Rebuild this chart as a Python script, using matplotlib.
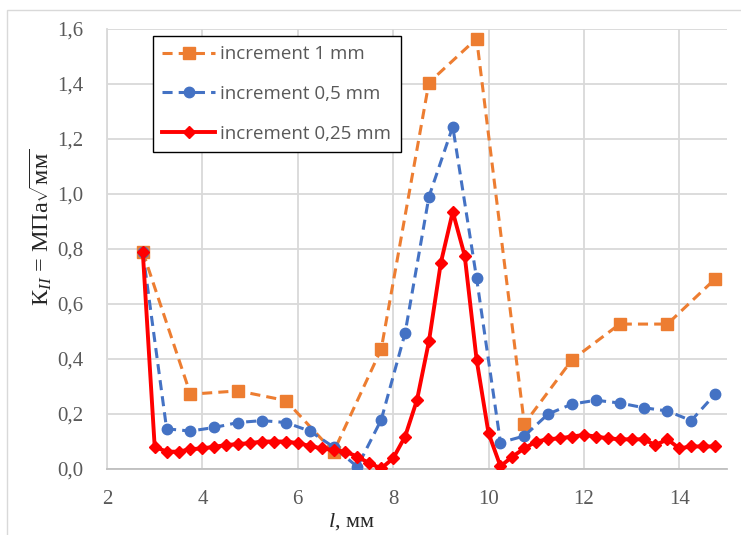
"""
K_II vs crack length l for three increment sizes, Excel-like styling.
"""
import matplotlib
matplotlib.use("Agg")
import matplotlib.pyplot as plt
from matplotlib.patches import Rectangle

plt.rcParams['mathtext.fontset'] = 'custom'
plt.rcParams['mathtext.rm'] = 'Liberation Serif'
plt.rcParams['mathtext.it'] = 'Liberation Serif:italic'

# increment 1 mm
x_1 = [2.75, 3.75, 4.75, 5.75, 6.75, 7.75, 8.75, 9.75, 10.75, 11.75, 12.75,
       13.75, 14.75]
k_1 = [0.79, 0.272, 0.284, 0.249, 0.062, 0.436, 1.405, 1.565, 0.164, 0.397,
       0.527, 0.527, 0.691]

# increment 0.5 mm
x_05 = [2.75, 3.25, 3.75, 4.25, 4.75, 5.25, 5.75, 6.25, 6.75, 7.25, 7.75,
        8.25, 8.75, 9.25, 9.75, 10.25, 10.75, 11.25, 11.75, 12.25, 12.75,
        13.25, 13.75, 14.25, 14.75]
k_05 = [0.79, 0.146, 0.138, 0.151, 0.169, 0.176, 0.169, 0.138, 0.08, 0.008,
        0.179, 0.494, 0.99, 1.245, 0.693, 0.096, 0.12, 0.2, 0.236, 0.25,
        0.24, 0.223, 0.211, 0.176, 0.272]

# increment 0.25 mm
x_025 = [2.75, 3.0, 3.25, 3.5, 3.75, 4.0, 4.25, 4.5, 4.75, 5.0, 5.25, 5.5,
         5.75, 6.0, 6.25, 6.5, 6.75, 7.0, 7.25, 7.5, 7.75, 8.0, 8.25, 8.5,
         8.75, 9.0, 9.25, 9.5, 9.75, 10.0, 10.25, 10.5, 10.75, 11.0, 11.25,
         11.5, 11.75, 12.0, 12.25, 12.5, 12.75, 13.0, 13.25, 13.5, 13.75,
         14.0, 14.25, 14.5, 14.75]
k_025 = [0.79, 0.081, 0.063, 0.063, 0.072, 0.075, 0.081, 0.087, 0.091, 0.094,
         0.1, 0.1, 0.1, 0.094, 0.084, 0.075, 0.069, 0.063, 0.045, 0.021,
         0.002, 0.039, 0.118, 0.251, 0.464, 0.75, 0.935, 0.776, 0.397, 0.13,
         0.01, 0.045, 0.075, 0.1, 0.108, 0.112, 0.118, 0.124, 0.118, 0.112,
         0.108, 0.108, 0.108, 0.087, 0.108, 0.075, 0.082, 0.082, 0.082]

x_ticks = [2, 4, 6, 8, 10, 12, 14]
y_ticks = [0.0, 0.2, 0.4, 0.6, 0.8, 1.0, 1.2, 1.4, 1.6]
labels = ['increment 1 mm', 'increment 0,5 mm', 'increment 0,25 mm']

fig = plt.figure(figsize=(7.41, 5.35), dpi=100)
ax = fig.add_axes([107/741, 66/535, 620/741, 440/535])

# outer chart border (only top/left visible in the screenshot)
fig.patches.append(Rectangle((7/741, -0.2), 1.2, 1.2 - 10/535,
                             transform=fig.transFigure, fill=False,
                             edgecolor='#D9D9D9', linewidth=1.0))

ax.plot(x_1, k_1, color='#ED7D31', lw=2.2, dashes=(3.3, 2.0),
        marker='s', ms=8, label=labels[0], zorder=3)
ax.plot(x_05, k_05, color='#4472C4', lw=2.2, dashes=(3.3, 2.0),
        marker='o', ms=7.5, label=labels[1], zorder=4)
ax.plot(x_025, k_025, color='#FF0000', lw=2.8,
        marker='D', ms=6, label=labels[2], zorder=5)

ax.set_xlim(2, 15)
ax.set_ylim(0, 1.6)
ax.set_xticks(x_ticks)
ax.set_yticks(y_ticks)
ax.set_xticklabels([str(t) for t in x_ticks])
ax.set_yticklabels([('%.1f' % t).replace('.', ',') for t in y_ticks])

ax.grid(True, color='#D9D9D9', lw=1.3)
ax.set_axisbelow(True)
for s in ['top', 'right']:
    ax.spines[s].set_visible(False)
ax.spines['left'].set_color('#D9D9D9')
ax.spines['left'].set_linewidth(1.3)
ax.spines['bottom'].set_color('#BFBFBF')
ax.spines['bottom'].set_linewidth(1.3)
ax.tick_params(length=0, colors='#595959', labelsize=15)
ax.tick_params(axis='x', pad=15)
ax.tick_params(axis='y', pad=17)
for t in ax.get_xticklabels() + ax.get_yticklabels():
    t.set_fontfamily('Liberation Serif')

ax.set_xlabel(r'$\mathit{l}$, мм', fontsize=16, family='Liberation Serif',
              color='#262626')
ax.xaxis.set_label_coords(0.395, -0.095)
ax.set_ylabel(r'$\mathrm{К}_{II}$ = МПа$\sqrt{\mathrm{мм}}$', fontsize=17.5,
              family='Liberation Serif', color='#262626')
ax.yaxis.set_label_coords(-0.085, 0.55)

leg = ax.legend(loc='upper left', bbox_to_anchor=(0.074, 0.984),
                prop={'family': 'Open Sans', 'size': 13.5}, frameon=True,
                fancybox=False, edgecolor='black', framealpha=1,
                handlelength=2.8, labelspacing=1.15, borderpad=0.5,
                handletextpad=0.3, borderaxespad=0)
leg.get_frame().set_linewidth(1.0)
for t in leg.get_texts():
    t.set_color('#595959')

fig.savefig('out.png', dpi=100)
